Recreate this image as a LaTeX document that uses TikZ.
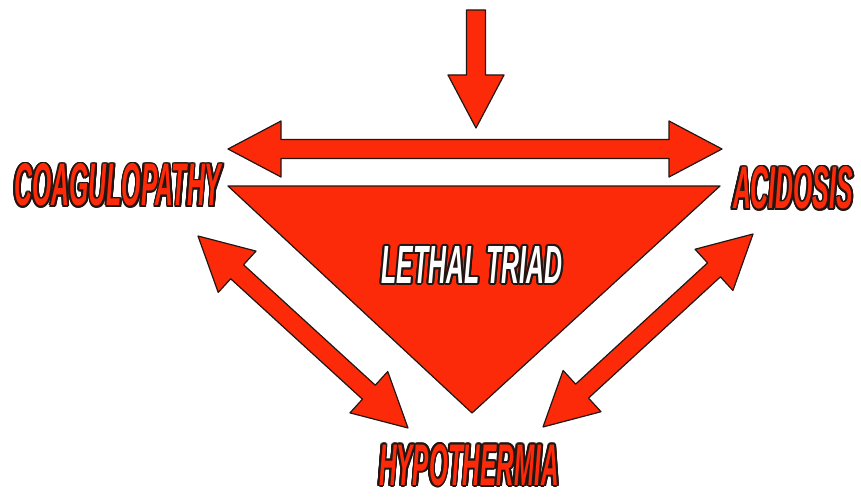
\documentclass[tikz,border=0pt]{standalone}
\usepackage{fontspec}
\setmainfont{Liberation Sans}
\usepackage{contour}
\usetikzlibrary{calc}

\contourlength{1.8pt}
\definecolor{triadred}{RGB}{252,42,8}
\definecolor{inkline}{RGB}{35,22,18}

% block arrow sizes
\newcommand{\arrhead}{53pt}
\newcommand{\arrwide}{28pt}
\newcommand{\arrshaft}{9.5pt}

% comic style word: width, height, text
\newcommand{\comic}[3]{\contour{inkline}{\resizebox{#1}{#2}{\bfseries\itshape #3}}}

% double headed block arrow between two named points
\newcommand{\fatarrow}[2]{%
  \path[blockarrow] let \p1=($(#2)-(#1)$), \n1={veclen(\x1,\y1)}, \n2={atan2(\y1,\x1)} in
    [shift={(#1)}, rotate=\n2]
    (0pt,0pt) -- (\arrhead,\arrwide) -- (\arrhead,\arrshaft)
    -- ({\n1-\arrhead},\arrshaft) -- ({\n1-\arrhead},\arrwide) -- (\n1,0pt)
    -- ({\n1-\arrhead},-\arrwide) -- ({\n1-\arrhead},-\arrshaft)
    -- (\arrhead,-\arrshaft) -- (\arrhead,-\arrwide) -- cycle;}

% single headed block arrow, tail #1, tip #2
\newcommand{\fatsingle}[2]{%
  \path[blockarrow] let \p1=($(#2)-(#1)$), \n1={veclen(\x1,\y1)}, \n2={atan2(\y1,\x1)} in
    [shift={(#1)}, rotate=\n2]
    (0pt,\arrshaft) -- ({\n1-\arrhead},\arrshaft) -- ({\n1-\arrhead},\arrwide)
    -- (\n1,0pt) -- ({\n1-\arrhead},-\arrwide) -- ({\n1-\arrhead},-\arrshaft)
    -- (0pt,-\arrshaft) -- cycle;}

\begin{document}
\begin{tikzpicture}[x=1pt, y=-1pt,
    blockarrow/.style={fill=triadred, draw=inkline, line width=1.2pt, line join=round},
    lbl/.style={inner sep=0pt, text=triadred}]
  \path[use as bounding box, fill=white] (0,0) rectangle (861,497);
  % Triangle
  \coordinate (tl) at (228,186);
  \coordinate (tr) at (720,186);
  \coordinate (tb) at (472,413);
  \draw[blockarrow] (tl) -- (tr) -- (tb) -- cycle;
  \node[lbl, text=white] (triad) at (472,266) {\comic{181pt}{37pt}{LETHAL TRIAD}};
  % Corner words
  \node[lbl] (coag) at (118,186) {\comic{207pt}{42pt}{COAGULOPATHY}};
  \node[lbl] (acid) at (793,189) {\comic{120pt}{42pt}{ACIDOSIS}};
  \node[lbl] (hypo) at (469,466) {\comic{180pt}{41pt}{HYPOTHERMIA}};
  % Arrow end points
  \coordinate (intop) at (476,10);
  \coordinate (intip) at (476,128);
  \coordinate (hl) at (228,149);
  \coordinate (hr) at (722,149);
  \coordinate (dl1) at (198,236);
  \coordinate (dl2) at (408,428);
  \coordinate (dr1) at (753,234);
  \coordinate (dr2) at (543,427);
  % Incoming arrow
  \fatsingle{intop}{intip}
  % Top double arrow
  \fatarrow{hl}{hr}
  % Side double arrows
  \fatarrow{dl1}{dl2}
  \fatarrow{dr1}{dr2}
\end{tikzpicture}
\end{document}
